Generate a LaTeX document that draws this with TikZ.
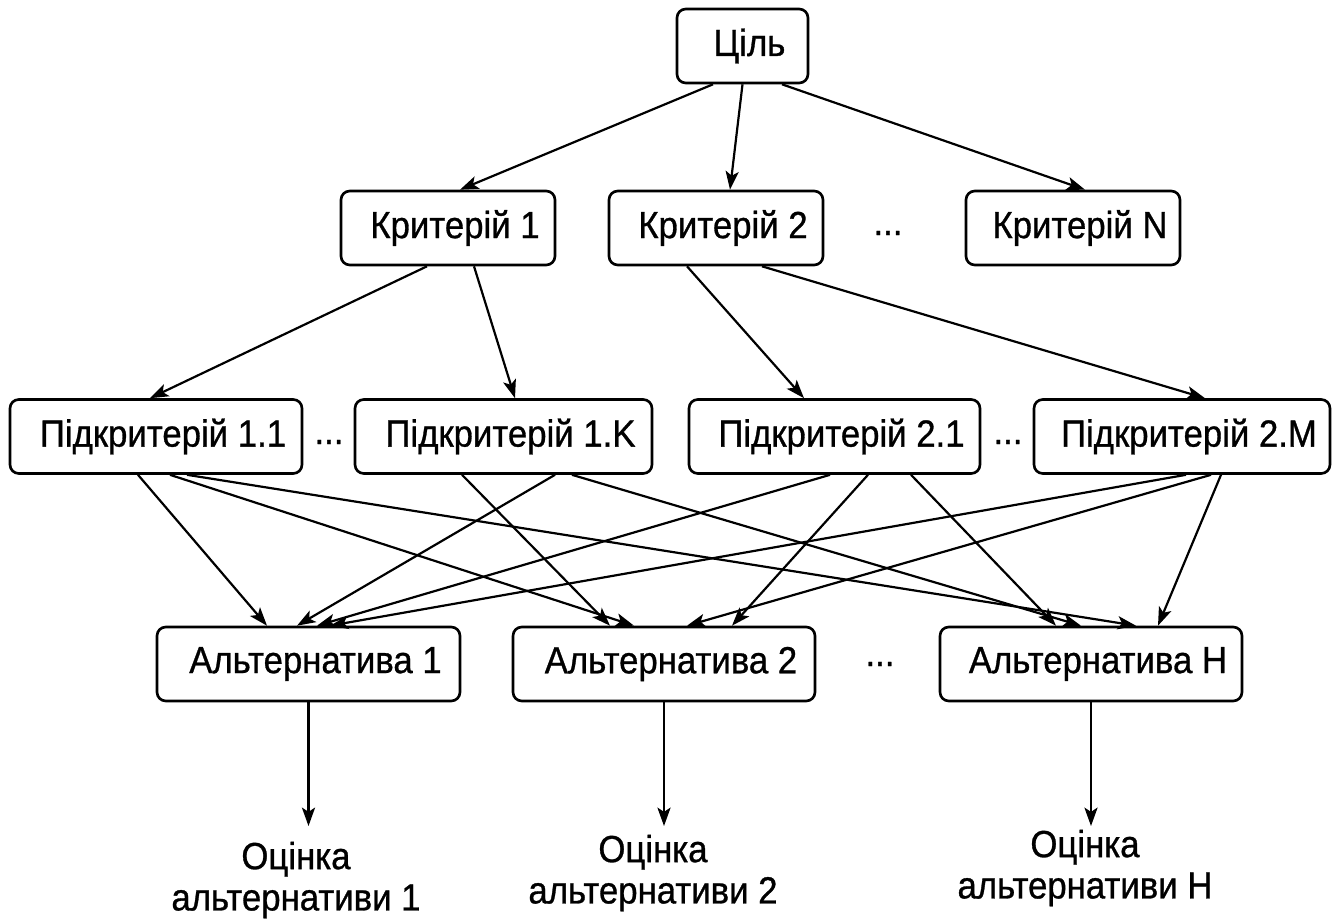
\documentclass[tikz,border=0pt]{standalone}
\usepackage{fontspec}
\setmainfont{Liberation Sans}[FakeStretch=0.92,FakeBold=0.8]
\usetikzlibrary{arrows.meta,calc}
\begin{document}
\begin{tikzpicture}[x=0.02cm,y=-0.02cm,
  font=\fontsize{21.5pt}{23.5pt}\selectfont,
  box/.style={draw, line width=1.5pt, rounded corners=5pt,
    minimum height=1.48cm, inner sep=3pt,
    execute at begin node={\hspace*{0.28cm}}},
  conn/.style={line width=1.25pt, -{Stealth[length=10.5pt,width=7.5pt,inset=2.5pt]}},
  dots/.style={inner sep=0pt},
  est/.style={align=center, inner sep=0pt}]
\useasboundingbox (0,0) rectangle (1343,919);

% goal
\node[box, minimum width=2.62cm] (goal) at (742.5,46) {Ціль};

% criteria
\node[box, minimum width=4.28cm] (k1) at (448,228) {Критерій 1};
\node[box, minimum width=4.28cm] (k2) at (716,228) {Критерій 2};
\node[box, minimum width=4.28cm] (kn) at (1073,228) {Критерій N};
\node[dots] (kd) at (888,233) {...};

% sub-criteria
\node[box, minimum width=5.84cm] (p11) at (156,436.5) {Підкритерій 1.1};
\node[box, minimum width=5.94cm] (p1k) at (503.5,436.5) {Підкритерій 1.K};
\node[box, minimum width=5.82cm] (p21) at (834.5,436.5) {Підкритерій 2.1};
\node[box, minimum width=5.92cm] (p2m) at (1182,436.5) {Підкритерій 2.M};
\node[dots] (pd1) at (329,442) {...};
\node[dots] (pd2) at (1008,442) {...};

% alternatives
\node[box, minimum width=6.06cm] (a1) at (308.5,664) {Альтернатива 1};
\node[box, minimum width=6.04cm] (a2) at (664,664) {Альтернатива 2};
\node[box, minimum width=6.04cm] (ah) at (1091,664) {Альтернатива H};
\node[dots] (ad) at (880,664) {...};

% estimates
\node[est] (o1) at (296,880) {Оцінка\\альтернативи 1};
\node[est] (o2) at (653,873) {Оцінка\\альтернативи 2};
\node[est] (oh) at (1085,868) {Оцінка\\альтернативи H};
\coordinate (e1) at (308.5,826);
\coordinate (e2) at (664,826);
\coordinate (eh) at (1091,826);

% goal -> criteria
\draw[conn] ($(goal.south)+(-29.5,0)$) -- ($(k1.north)+(12,0)$);
\draw[conn] ($(goal.south)+(0,0)$) -- ($(k2.north)+(14,0)$);
\draw[conn] ($(goal.south)+(39.5,0)$) -- ($(kn.north)+(12,0)$);

% criteria -> sub-criteria
\draw[conn] ($(k1.south)+(-21,0)$) -- ($(p11.north)+(-6,0)$);
\draw[conn] ($(k1.south)+(26,0)$) -- ($(p1k.north)+(11.5,0)$);
\draw[conn] ($(k2.south)+(-29,0)$) -- ($(p21.north)+(-30.5,0)$);
\draw[conn] ($(k2.south)+(46,0)$) -- ($(p2m.north)+(23,0)$);

% sub-criteria -> alternatives
\draw[conn] ($(p11.south)+(-18,0)$) -- ($(a1.north)+(-41.5,0)$);
\draw[conn] ($(p11.south)+(14,0)$) -- ($(a2.north)+(-30,0)$);
\draw[conn] ($(p11.south)+(31,0)$) -- ($(ah.north)+(45,0)$);

\draw[conn] ($(p1k.south)+(51.5,0)$) -- ($(a1.north)+(-11.5,0)$);
\draw[conn] ($(p1k.south)+(-41.5,0)$) -- ($(a2.north)+(-54,0)$);
\draw[conn] ($(p1k.south)+(68.5,0)$) -- ($(ah.north)+(-10,0)$);

\draw[conn] ($(p21.south)+(-4.5,0)$) -- ($(a1.north)+(8.5,0)$);
\draw[conn] ($(p21.south)+(33.5,0)$) -- ($(a2.north)+(68,0)$);
\draw[conn] ($(p21.south)+(76.5,0)$) -- ($(ah.north)+(-35,0)$);

\draw[conn] ($(p2m.south)+(4,0)$) -- ($(a1.north)+(21.5,0)$);
\draw[conn] ($(p2m.south)+(29,0)$) -- ($(a2.north)+(23,0)$);
\draw[conn] ($(p2m.south)+(39,0)$) -- ($(ah.north)+(67,0)$);

% alternatives -> estimates
\draw[conn] (a1.south) -- (e1);
\draw[conn] (a2.south) -- (e2);
\draw[conn] (ah.south) -- (eh);
\end{tikzpicture}
\end{document}
